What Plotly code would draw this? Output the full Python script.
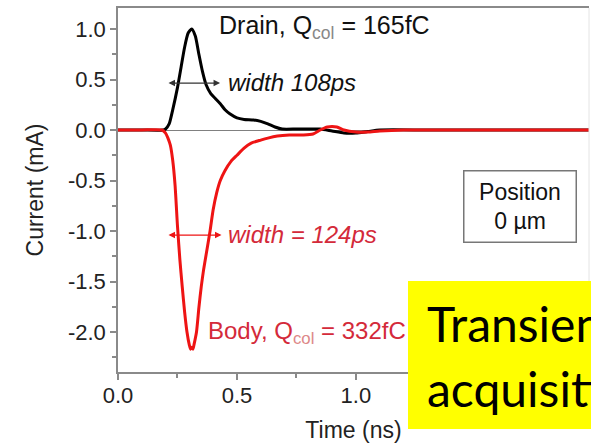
import plotly.graph_objects as go

# Drain (black) current transient
drain_t = [0.0, 0.10, 0.19, 0.20, 0.215, 0.23, 0.25, 0.265, 0.28, 0.295, 0.31, 0.325,
           0.34, 0.355, 0.37, 0.39, 0.41, 0.43, 0.45, 0.47, 0.50, 0.53, 0.57, 0.60,
           0.63, 0.66, 0.69, 0.75, 0.80, 0.85, 0.90, 0.95, 1.00, 1.05, 1.10, 1.3, 1.6, 1.98]
drain_i = [0.0, 0.0, 0.0, 0.01, 0.06, 0.2, 0.42, 0.62, 0.82, 0.96, 1.0, 0.93,
           0.75, 0.58, 0.45, 0.36, 0.31, 0.26, 0.20, 0.16, 0.12, 0.105, 0.10, 0.085,
           0.06, 0.03, 0.01, 0.01, 0.01, 0.01, -0.01, -0.03, -0.03, -0.015, 0.0, 0.0, 0.0, 0.0]

# Body (red) current transient
body_t = [0.0, 0.10, 0.185, 0.20, 0.21, 0.22, 0.23, 0.24, 0.25, 0.26, 0.27, 0.28, 0.29,
          0.30, 0.305, 0.31, 0.315, 0.32, 0.33, 0.34, 0.35, 0.36, 0.37, 0.387, 0.40,
          0.415, 0.43, 0.45, 0.475, 0.50, 0.53, 0.56, 0.60, 0.63, 0.67, 0.72, 0.78, 0.82, 0.85,
          0.88, 0.92, 0.95, 1.00, 1.05, 1.10, 1.2, 1.5, 1.98]
body_i = [0.0, 0.0, 0.0, -0.03, -0.08, -0.15, -0.3, -0.55, -0.95, -1.28, -1.55, -1.8, -2.0,
          -2.13, -2.17, -2.15, -2.17, -2.12, -2.0, -1.76, -1.55, -1.38, -1.24, -1.0, -0.79,
          -0.62, -0.5, -0.40, -0.31, -0.25, -0.18, -0.13, -0.10, -0.08, -0.06, -0.05, -0.05, -0.04, 0.0,
          0.03, 0.03, 0.0, -0.02, -0.02, -0.01, 0.0, 0.0, 0.0]

y_ticks = [1.0, 0.5, 0.0, -0.5, -1.0, -1.5, -2.0]
x_ticks = [0.0, 0.5, 1.0]

RED_LINE = "#ee1414"
RED_TEXT = "#d42a3a"
FONT = "Liberation Sans, Arial, sans-serif"

fig = go.Figure()
fig.add_trace(go.Scatter(x=drain_t, y=drain_i, mode="lines",
                         line=dict(color="black", width=3, shape="spline", smoothing=0.6),
                         showlegend=False))
fig.add_trace(go.Scatter(x=body_t, y=body_i, mode="lines",
                         line=dict(color=RED_LINE, width=3, shape="spline", smoothing=0.6),
                         showlegend=False))

fig.update_layout(
    width=591, height=445,
    margin=dict(l=118, r=2, t=8, b=73),
    paper_bgcolor="white", plot_bgcolor="white",
    font=dict(family=FONT, size=22, color="#222"),
    showlegend=False,
)

fig.update_xaxes(
    range=[0, 1.98], showline=True, linecolor="#8a8a8a", linewidth=1.5, mirror=True,
    showgrid=False, zeroline=False,
    tickvals=x_ticks, ticktext=[f"{v:.1f}" for v in x_ticks],
    ticks="outside", ticklen=6, tickcolor="#8a8a8a", tickwidth=1.5,
    ticklabelstandoff=-3,
    minor=dict(dtick=0.25, tick0=0, ticks="outside", ticklen=4, tickcolor="#8a8a8a", tickwidth=1.5),
    tickfont=dict(size=22, color="#222"),
    title=dict(text="Time (ns)", font=dict(size=23, color="#222"), standoff=15),
)
fig.update_yaxes(
    range=[-2.396, 1.208], showline=True, linecolor="#8a8a8a", linewidth=1.5, mirror=False,
    showgrid=False, zeroline=True, zerolinecolor="#808080", zerolinewidth=1,
    tickvals=y_ticks, ticktext=[f"{v:.1f}" for v in y_ticks],
    ticks="outside", ticklen=6, tickcolor="#8a8a8a", tickwidth=1.5,
    minor=dict(dtick=0.25, tick0=0, ticks="outside", ticklen=4, tickcolor="#8a8a8a", tickwidth=1.5),
    tickfont=dict(size=22, color="#222"),
    title=dict(text="Current (mA)", font=dict(size=23, color="#222"), standoff=18),
)

# faint right frame edge
fig.add_shape(type="line", xref="paper", yref="paper", x0=1, x1=1, y0=0, y1=1,
              line=dict(color="#e4e4e4", width=1))

# width arrows
fig.add_annotation(x=0.429, y=0.465, ax=0.206, ay=0.465, xref="x", yref="y",
                   axref="x", ayref="y", text="", showarrow=True, arrowside="end+start",
                   arrowhead=2, arrowsize=1, arrowwidth=1.3, arrowcolor="#333")
fig.add_annotation(x=0.435, y=-1.04, ax=0.206, ay=-1.04, xref="x", yref="y",
                   axref="x", ayref="y", text="", showarrow=True, arrowside="end+start",
                   arrowhead=2, arrowsize=1, arrowwidth=1.3, arrowcolor=RED_LINE)

# text labels
fig.add_annotation(x=0.415, y=1.02, xref="x", yref="y", xanchor="left", yanchor="middle",
                   showarrow=False,
                   text="Drain, Q<sub><span style='color:#888'>col</span></sub> = 165fC",
                   font=dict(size=25, color="#111"))
fig.add_annotation(x=0.455, y=0.475, xref="x", yref="y", xanchor="left", yanchor="middle",
                   showarrow=False, text="<i>width 108ps</i>",
                   font=dict(size=24, color="#111"))
fig.add_annotation(x=0.452, y=-1.03, xref="x", yref="y", xanchor="left", yanchor="middle",
                   showarrow=False, text="<i>width = 124ps</i>",
                   font=dict(size=24, color=RED_TEXT))
fig.add_annotation(x=0.372, y=-2.0, xref="x", yref="y", xanchor="left", yanchor="middle",
                   showarrow=False,
                   text="Body, Q<sub><span style='color:#d88'>col</span></sub> = 332fC",
                   font=dict(size=24, color=RED_TEXT))

# position box
fig.add_annotation(x=1.692, y=-0.762, xref="x", yref="y", xanchor="center", yanchor="middle",
                   showarrow=False, text="Position<br>0 µm",
                   width=107, height=66, borderpad=2, bordercolor="#777", borderwidth=1.5,
                   bgcolor="white", font=dict(size=23, color="#111"))

# yellow overlay box
fig.add_shape(type="rect", xref="paper", yref="paper", x0=0.6157, x1=1.05, y0=-0.1566, y1=0.25,
              fillcolor="#ffff00", line=dict(width=0), layer="above")
fig.add_annotation(x=(425 - 118) / 471, y=0.134, xref="paper", yref="paper",
                   xanchor="left", yanchor="middle", showarrow=False, text="Transient",
                   font=dict(family="Lato", size=48, color="black"))
fig.add_annotation(x=(425 - 118) / 471, y=-0.045, xref="paper", yref="paper",
                   xanchor="left", yanchor="middle", showarrow=False, text="acquisition",
                   font=dict(family="Lato", size=48, color="black"))

fig.write_html("out.html")
